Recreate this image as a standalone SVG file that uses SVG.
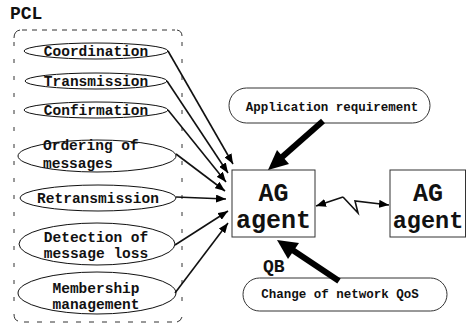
<svg xmlns="http://www.w3.org/2000/svg" width="466" height="324" viewBox="0 0 466 324">
<defs>
<style>
.t{font-family:"Liberation Mono","Courier New",monospace;font-weight:bold;fill:#111;}
.el{fill:#fff;stroke:#111;stroke-width:1;}
.ln{stroke:#111;stroke-width:1.6;fill:none;}
.dash{stroke:#333;stroke-width:1;fill:none;}
.box{fill:#fff;stroke:#333;stroke-width:1;}
.thick{stroke:#000;stroke-width:6;fill:none;}
</style>
<marker id="ah" viewBox="0 0 10 8" refX="10" refY="4" markerWidth="10" markerHeight="8" markerUnits="userSpaceOnUse" orient="auto">
<path d="M0,0 L10,4 L0,8 Z" fill="#000"/>
</marker>
</defs>

<text class="t" x="10" y="19" font-size="18">PCL</text>

<g id="pcl-frame">
<line class="dash" x1="22" y1="30" x2="175" y2="30" stroke-dasharray="5 5"/>
<line class="dash" x1="14" y1="42" x2="14" y2="310" stroke-dasharray="4 13"/>
<line class="dash" x1="182" y1="42" x2="182" y2="310" stroke-dasharray="4 13"/>
<line class="dash" x1="24" y1="322" x2="175" y2="322" stroke-dasharray="5 8"/>
<path class="dash" d="M14,38 Q14,31 20,30"/>
<path class="dash" d="M177,30 Q182,31 182,36"/>
<path class="dash" d="M14,314 Q14,320 18,321"/>
<path class="dash" d="M177,322 Q181,321 182,317"/>
</g>

<g id="coordination">
<ellipse class="el" cx="96" cy="51" rx="72" ry="8"/>
<text class="t" x="96" y="55.5" font-size="14.5" text-anchor="middle">Coordination</text>
</g>
<g id="transmission">
<ellipse class="el" cx="96" cy="81" rx="71" ry="8"/>
<text class="t" x="96" y="85.5" font-size="14.5" text-anchor="middle">Transmission</text>
</g>
<g id="confirmation">
<ellipse class="el" cx="96" cy="110" rx="72" ry="8"/>
<text class="t" x="96" y="114.5" font-size="14.5" text-anchor="middle">Confirmation</text>
</g>
<g id="ordering">
<ellipse class="el" cx="97" cy="156" rx="79" ry="16"/>
<text class="t" x="43" y="150" font-size="14.5">Ordering of</text>
<text class="t" x="43" y="168" font-size="14.5">messages</text>
</g>
<g id="retransmission">
<ellipse class="el" cx="98" cy="198" rx="78" ry="13"/>
<text class="t" x="98" y="202.5" font-size="14.5" text-anchor="middle">Retransmission</text>
</g>
<g id="detection">
<ellipse class="el" cx="97" cy="244" rx="78" ry="21"/>
<text class="t" x="96" y="241.5" font-size="14.5" text-anchor="middle">Detection of</text>
<text class="t" x="96" y="258" font-size="14.5" text-anchor="middle">message loss</text>
</g>
<g id="membership">
<ellipse class="el" cx="97" cy="293" rx="79" ry="21"/>
<text class="t" x="96" y="292.5" font-size="14.5" text-anchor="middle">Membership</text>
<text class="t" x="96" y="308.5" font-size="14.5" text-anchor="middle">management</text>
</g>

<g id="app-req">
<rect class="box" x="229" y="88" width="201" height="35" rx="17.5" ry="17.5" stroke="#111"/>
<text class="t" x="332" y="111" font-size="12.5" text-anchor="middle">Application requirement</text>
</g>

<g id="agent1">
<rect class="box" x="232" y="170" width="83" height="67"/>
<text class="t" x="273.5" y="201" font-size="25" text-anchor="middle">AG</text>
<text class="t" x="273.5" y="228" font-size="25" text-anchor="middle">agent</text>
</g>

<g id="agent2">
<rect class="box" x="390" y="170" width="75.5" height="67"/>
<text class="t" x="428" y="201" font-size="25" text-anchor="middle">AG</text>
<text class="t" x="428" y="228" font-size="23.5" text-anchor="middle">agent</text>
</g>

<text class="t" x="263" y="272" font-size="18">QB</text>

<g id="qos-change">
<rect class="box" x="243" y="278" width="204" height="33" rx="16.5" ry="16.5" stroke="#111"/>
<text class="t" x="340" y="298" font-size="12.5" text-anchor="middle">Change of network QoS</text>
</g>

<g id="connectors">
<line class="ln" x1="168" y1="51" x2="233" y2="164" marker-end="url(#ah)"/>
<line class="ln" x1="167" y1="81" x2="228" y2="173" marker-end="url(#ah)"/>
<line class="ln" x1="168" y1="110" x2="226" y2="182" marker-end="url(#ah)"/>
<line class="ln" x1="176" y1="154" x2="225" y2="191" marker-end="url(#ah)"/>
<line class="ln" x1="176" y1="197" x2="226" y2="199" marker-end="url(#ah)"/>
<line class="ln" x1="175" y1="245" x2="228" y2="211" marker-end="url(#ah)"/>
<line class="ln" x1="175" y1="293" x2="228" y2="223" marker-end="url(#ah)"/>
<polyline class="ln" points="343,197 316,206" marker-end="url(#ah)"/>
<polyline class="ln" points="343,197 358,213 355,201 389,205" marker-end="url(#ah)"/>
<line class="thick" x1="323" y1="121" x2="281" y2="158"/>
<path d="M268,170 L289,164 L277,150 Z" fill="#000"/>
<line class="thick" x1="339" y1="281" x2="291" y2="249"/>
<path d="M277,240 L288,259 L299,243 Z" fill="#000"/>
</g>
</svg>
